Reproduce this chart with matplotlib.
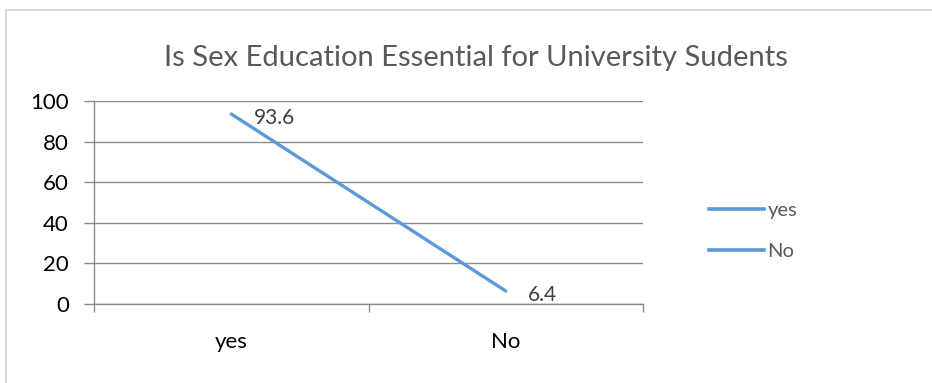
import matplotlib
matplotlib.use("Agg")
import matplotlib.pyplot as plt
from matplotlib.lines import Line2D
from matplotlib.patches import Rectangle

title = "Is Sex Education Essential for University Sudents"
categories = ["yes", "No"]
values = [93.6, 6.4]
legend_labels = ["yes", "No"]
yticks = [0, 20, 40, 60, 80, 100]

W, H = 932, 383
fig = plt.figure(figsize=(W / 100, H / 100), dpi=100)
fig.patch.set_facecolor("white")

FONT = ["Lato", "DejaVu Sans"]
BLUE = "#5B9BD5"
GRID = "#8C8C8C"

# chart frame (light grey border)
fig.patches.append(Rectangle((6 / W, -0.05), 1.1, 1 - 10 / H + 0.05,
                             transform=fig.transFigure, fill=False,
                             edgecolor="#D9D9D9", linewidth=1.5))

ax = fig.add_axes([94 / W, 1 - 304 / H, (643 - 94) / W, (304 - 101) / H])
x = list(range(len(categories)))
ax.plot(x, values, color=BLUE, linewidth=2.4, solid_capstyle="round")

ax.set_xlim(-0.5, len(categories) - 0.5)
ax.set_ylim(0, 100)
ax.set_yticks(yticks)
ax.set_yticklabels([str(v) for v in yticks], fontsize=16, family=FONT, color="black")
ax.set_xticks(x)
ax.set_xticklabels(categories, fontsize=16, family=FONT, color="black")
ax.set_xticks([i - 0.5 for i in range(len(categories) + 1)], minor=True)
ax.tick_params(axis="x", which="major", length=0, pad=20)
ax.tick_params(axis="x", which="minor", length=6, color=GRID, width=1)
ax.tick_params(axis="y", length=7, color=GRID, width=1, pad=11)
ax.grid(axis="y", color=GRID, linewidth=1)
for side in ("top", "right"):
    ax.spines[side].set_visible(False)
for side in ("left", "bottom"):
    ax.spines[side].set_color(GRID)
    ax.spines[side].set_linewidth(1)
ax.set_axisbelow(True)

for xi, v in zip(x, values):
    ax.annotate(f"{v}", (xi, v), xytext=(16, -3), textcoords="offset points",
                ha="left", va="center", fontsize=15, family=FONT, color="#404040")

fig.text(476 / W, 1 - 58 / H, title, ha="center", va="center",
         fontsize=21, family=FONT, color="#595959")

handles = [Line2D([0], [0], color=BLUE, linewidth=2.6) for _ in legend_labels]
leg = fig.legend(handles, legend_labels, loc="center left",
                 bbox_to_anchor=(691 / W, 1 - 231 / H), frameon=False,
                 prop={"family": FONT, "size": 14.5}, handlelength=2.7,
                 handletextpad=0.2, labelspacing=1.15)
for t in leg.get_texts():
    t.set_color("#595959")

fig.savefig("out.png", dpi=100)
